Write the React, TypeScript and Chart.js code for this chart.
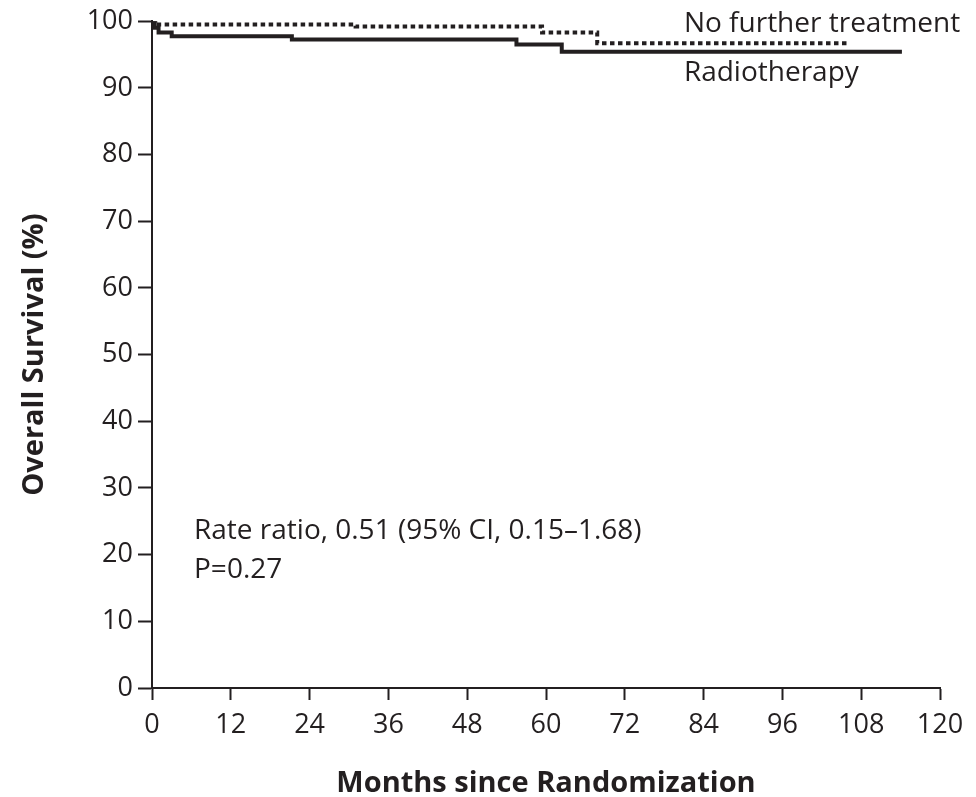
import React, { useEffect, useRef } from "react";
import { Chart, registerables } from "chart.js";

Chart.register(...registerables);

// Kaplan–Meier step points: event times (months) and survival (%)
const noFurtherMonths = [0, 0.5, 31, 59.4, 67.8, 106];
const noFurtherSurvival = [100, 99.5, 99.2, 98.3, 96.7, 96.7];

const radioMonths = [0, 0.4, 1.0, 3.0, 21.3, 55.5, 62.4, 114.2];
const radioSurvival = [100, 99.0, 98.3, 97.75, 97.25, 96.5, 95.4, 95.4];

const xTicks = [0, 12, 24, 36, 48, 60, 72, 84, 96, 108, 120];
const yTicks = [0, 10, 20, 30, 40, 50, 60, 70, 80, 90, 100];

const seriesLabels = ["No further treatment", "Radiotherapy"];
const statLines = ["Rate ratio, 0.51 (95% CI, 0.15\u20131.68)", "P=0.27"];
const xTitle = "Months since Randomization";
const yTitle = "Overall Survival (%)";

const INK = "#231f20";
const FONT = "'Open Sans', Lato, sans-serif";

const toPoints = (xs: number[], ys: number[]) => xs.map((x, i) => ({ x, y: ys[i] }));

// Curve labels, statistics and axis titles, anchored in data space
const textPlugin = {
  id: "kmText",
  afterDraw(chart: any) {
    const { ctx, scales, chartArea } = chart;
    const xs = scales.x;
    const ys = scales.y;
    ctx.save();
    ctx.fillStyle = INK;
    ctx.textBaseline = "alphabetic";
    ctx.textAlign = "left";
    ctx.font = `28px ${FONT}`;
    ctx.fillText(seriesLabels[0], xs.getPixelForValue(81.0), ys.getPixelForValue(98.35));
    ctx.fillText(seriesLabels[1], xs.getPixelForValue(81.0), ys.getPixelForValue(91.0));
    ctx.fillText(statLines[0], xs.getPixelForValue(6.4), ys.getPixelForValue(22.35));
    ctx.fillText(statLines[1], xs.getPixelForValue(6.4), ys.getPixelForValue(16.55));

    ctx.font = `bold 29px ${FONT}`;
    ctx.textAlign = "center";
    ctx.fillText(xTitle, (chartArea.left + chartArea.right) / 2, chartArea.bottom + 104);
    ctx.translate(43, (chartArea.top + chartArea.bottom) / 2);
    ctx.rotate(-Math.PI / 2);
    ctx.fillText(yTitle, 0, 0);
    ctx.restore();
  },
};

export default function App() {
  const ref = useRef<HTMLCanvasElement>(null);

  useEffect(() => {
    if (!ref.current) return;
    const chart = new Chart(ref.current, {
      type: "line",
      data: {
        datasets: [
          {
            label: seriesLabels[0],
            data: toPoints(noFurtherMonths, noFurtherSurvival),
            borderColor: INK,
            borderWidth: 4,
            borderDash: [4.5, 3.5],
            borderCapStyle: "butt",
            stepped: "before",
            pointRadius: 0,
            fill: false,
          },
          {
            label: seriesLabels[1],
            data: toPoints(radioMonths, radioSurvival),
            borderColor: INK,
            borderWidth: 4,
            stepped: "before",
            pointRadius: 0,
            fill: false,
          },
        ],
      },
      options: {
        responsive: false,
        animation: false,
        layout: { padding: { top: 21, right: 36, left: 0, bottom: 0 } },
        plugins: { legend: { display: false }, tooltip: { enabled: false } },
        scales: {
          x: {
            type: "linear",
            min: 0,
            max: 120,
            afterBuildTicks: (s: any) => {
              s.ticks = xTicks.map((v) => ({ value: v }));
            },
            afterFit: (s: any) => {
              s.height = 109;
            },
            border: { color: INK, width: 2 },
            grid: {
              drawOnChartArea: false,
              color: INK,
              tickLength: 12,
              tickWidth: 2,
            },
            ticks: { color: INK, font: { family: FONT, size: 27 }, padding: 9, maxRotation: 0 },
          },
          y: {
            type: "linear",
            min: 0,
            max: 100,
            afterBuildTicks: (s: any) => {
              s.ticks = yTicks.map((v) => ({ value: v }));
            },
            afterFit: (s: any) => {
              s.width = 152;
            },
            border: { color: INK, width: 2 },
            grid: {
              drawOnChartArea: false,
              color: INK,
              tickLength: 14,
              tickWidth: 2,
            },
            ticks: { color: INK, font: { family: FONT, size: 27 }, padding: 5 },
          },
        },
      },
      plugins: [textPlugin],
    } as any);
    return () => chart.destroy();
  }, []);

  return (
    <div style={{ position: "absolute", left: 0, top: 0, width: 976, height: 797, background: "#fff" }}>
      <canvas ref={ref} width={976} height={797} style={{ width: 976, height: 797 }} />
    </div>
  );
}
